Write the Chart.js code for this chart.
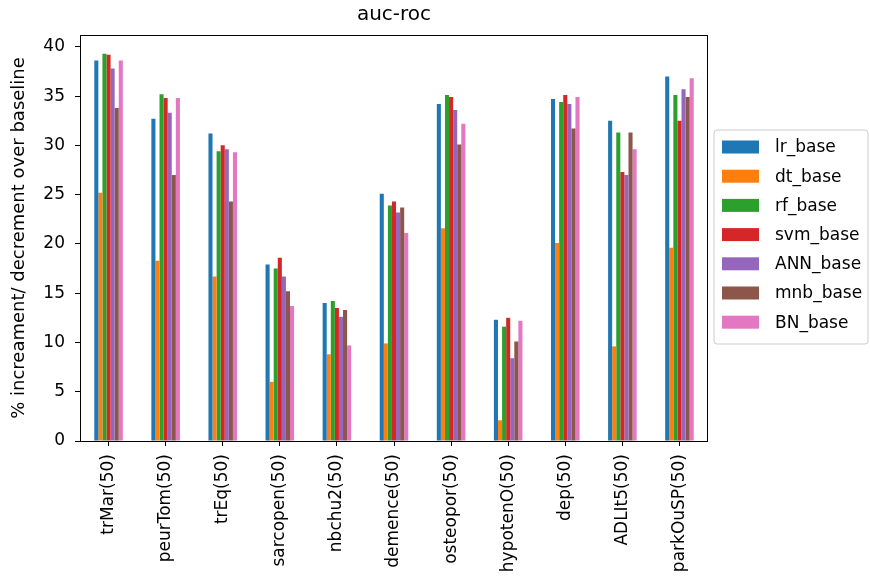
<!DOCTYPE html>
<html>
<head>
<meta charset="utf-8">
<script src="https://cdn.jsdelivr.net/npm/chart.js@4/dist/chart.umd.min.js"></script>
<style>
  html, body { margin: 0; padding: 0; background: #fff; }
  #wrap { width: 870px; height: 587px; position: relative; }
</style>
</head>
<body>
<div id="wrap"><canvas id="c" width="870" height="587"></canvas></div>
<script>
// Categories (dataset name with sample size)
const categories = ["trMar(50)", "peurTom(50)", "trEq(50)", "sarcopen(50)", "nbchu2(50)",
  "demence(50)", "osteopor(50)", "hypotenO(50)", "dep(50)", "ADLIt5(50)", "parkOuSP(50)"];

// % change in AUC-ROC over baseline, per classifier
const lrBase  = [38.6, 32.7, 31.2, 17.9, 14.0, 25.1, 34.2, 12.3, 34.7, 32.5, 37.0];
const dtBase  = [25.2, 18.3, 16.7,  6.0,  8.8,  9.9, 21.6,  2.1, 20.1,  9.6, 19.6];
const rfBase  = [39.3, 35.2, 29.4, 17.5, 14.2, 23.9, 35.1, 11.6, 34.4, 31.3, 35.1];
const svmBase = [39.2, 34.8, 30.0, 18.6, 13.5, 24.3, 34.9, 12.5, 35.1, 27.3, 32.5];
const annBase = [37.8, 33.3, 29.6, 16.7, 12.6, 23.2, 33.6,  8.4, 34.2, 27.0, 35.7];
const mnbBase = [33.8, 27.0, 24.3, 15.2, 13.3, 23.7, 30.1, 10.1, 31.7, 31.3, 34.9];
const bnBase  = [38.6, 34.8, 29.3, 13.7,  9.7, 21.1, 32.2, 12.2, 34.9, 29.6, 36.8];

const seriesNames = ["lr_base", "dt_base", "rf_base", "svm_base", "ANN_base", "mnb_base", "BN_base"];
const seriesValues = [lrBase, dtBase, rfBase, svmBase, annBase, mnbBase, bnBase];
const seriesColors = ["#1f77b4", "#ff7f0e", "#2ca02c", "#d62728", "#9467bd", "#8c564b", "#e377c2"];

// Y tick values
const yTicks = [0, 5, 10, 15, 20, 25, 30, 35, 40];

const FONT = "'DejaVu Sans', sans-serif";

const framePlugin = {
  id: 'frameAndExtras',
  afterDraw(chart) {
    const ctx = chart.ctx;
    const a = chart.chartArea;
    ctx.save();
    // axes frame
    ctx.strokeStyle = '#000';
    ctx.lineWidth = 1;
    ctx.strokeRect(Math.round(a.left) + 0.5, Math.round(a.top) + 0.5,
      Math.round(a.right - a.left) - 1, Math.round(a.bottom - a.top));
    // title
    ctx.fillStyle = '#000';
    ctx.font = "20px " + FONT;
    ctx.textAlign = 'center';
    ctx.textBaseline = 'middle';
    ctx.fillText('auc-roc', (a.left + a.right) / 2, 15);

    // legend
    const bx = 714, by = 130, bw = 154, bh = 214, r = 3;
    ctx.beginPath();
    ctx.moveTo(bx + r, by);
    ctx.lineTo(bx + bw - r, by);
    ctx.quadraticCurveTo(bx + bw, by, bx + bw, by + r);
    ctx.lineTo(bx + bw, by + bh - r);
    ctx.quadraticCurveTo(bx + bw, by + bh, bx + bw - r, by + bh);
    ctx.lineTo(bx + r, by + bh);
    ctx.quadraticCurveTo(bx, by + bh, bx, by + bh - r);
    ctx.lineTo(bx, by + r);
    ctx.quadraticCurveTo(bx, by, bx + r, by);
    ctx.closePath();
    ctx.fillStyle = 'rgba(255,255,255,0.8)';
    ctx.fill();
    ctx.strokeStyle = '#cccccc';
    ctx.stroke();

    ctx.font = "17px " + FONT;
    ctx.textAlign = 'left';
    ctx.textBaseline = 'middle';
    chart.data.datasets.forEach((ds, i) => {
      const cy = 147 + i * 29.2;
      ctx.fillStyle = ds.backgroundColor;
      ctx.fillRect(722, cy - 6.5, 37, 13);
      ctx.fillStyle = '#000';
      ctx.fillText(ds.label, 775, cy + 1);
    });
    ctx.restore();
  }
};

new Chart(document.getElementById('c'), {
  type: 'bar',
  data: {
    labels: categories,
    datasets: seriesNames.map((name, i) => ({
      label: name,
      data: seriesValues[i],
      backgroundColor: seriesColors[i],
      borderWidth: 0,
      categoryPercentage: 0.5,
      barPercentage: 1.0
    }))
  },
  options: {
    responsive: false,
    animation: false,
    devicePixelRatio: 1,
    layout: { padding: { top: 35, right: 162, left: 0, bottom: 0 } },
    plugins: {
      legend: { display: false },
      title: { display: false },
      tooltip: { enabled: false }
    },
    scales: {
      x: {
        offset: true,
        border: { display: false },
        grid: { offset: false, drawOnChartArea: false, drawTicks: true, tickLength: 5, color: '#000' },
        ticks: {
          minRotation: 90, maxRotation: 90, autoSkip: false, padding: 8,
          color: '#000', font: { family: FONT, size: 17 }
        },
        afterFit(scale) { scale.height = 146; }
      },
      y: {
        min: 0, max: 41.2,
        border: { display: false },
        grid: { drawOnChartArea: false, drawTicks: true, tickLength: 5, color: '#000' },
        afterBuildTicks(scale) { scale.ticks = yTicks.map(v => ({ value: v })); },
        ticks: { padding: 10, color: '#000', font: { family: FONT, size: 17 } },
        title: {
          display: true,
          text: '% increament/ decrement over baseline',
          color: '#000',
          font: { family: FONT, size: 18 },
          padding: { top: 9, bottom: 0 }
        },
        afterFit(scale) { scale.width = 80; }
      }
    }
  },
  plugins: [framePlugin]
});
</script>
</body>
</html>
